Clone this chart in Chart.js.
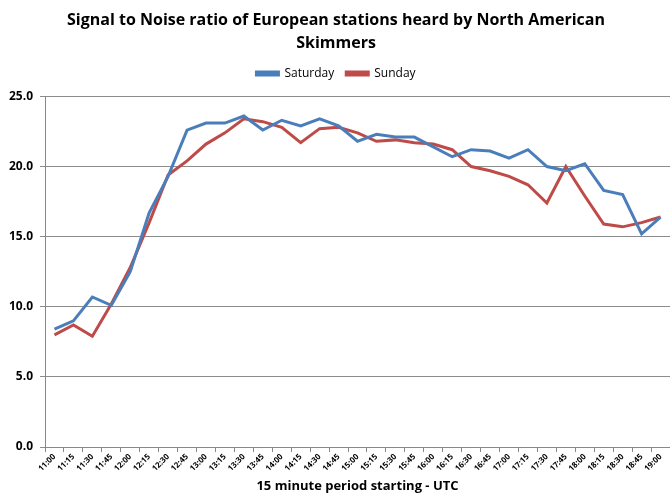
<!DOCTYPE html>
<html>
<head>
<meta charset="utf-8">
<script src="https://cdn.jsdelivr.net/npm/chart.js@4/dist/chart.umd.min.js"></script>
<style>
  html, body { margin: 0; padding: 0; background: #fff; }
  #wrap { width: 670px; height: 495px; }
</style>
</head>
<body>
<div id="wrap"><canvas id="snrChart"></canvas></div>
<script>
const timeLabels = ['11:00', '11:15', '11:30', '11:45', '12:00', '12:15', '12:30', '12:45', '13:00', '13:15', '13:30',
  '13:45', '14:00', '14:15', '14:30', '14:45', '15:00', '15:15', '15:30', '15:45', '16:00', '16:15', '16:30',
  '16:45', '17:00', '17:15', '17:30', '17:45', '18:00', '18:15', '18:30', '18:45', '19:00'];

const saturday = [8.4, 9.0, 10.7, 10.1, 12.5, 16.7, 19.3, 22.6, 23.1, 23.1, 23.6, 22.6, 23.3, 22.9, 23.4, 22.9,
  21.8, 22.3, 22.1, 22.1, 21.4, 20.7, 21.2, 21.1, 20.6, 21.2, 20.0, 19.7, 20.2, 18.3, 18.0, 15.2, 16.4];

const sunday = [8.0, 8.7, 7.9, 10.2, 12.8, 16.0, 19.4, 20.4, 21.6, 22.4, 23.4, 23.2, 22.8, 21.7, 22.7, 22.8,
  22.4, 21.8, 21.9, 21.7, 21.6, 21.2, 20.0, 19.7, 19.3, 18.7, 17.4, 20.0, 17.9, 15.9, 15.7, 16.0, 16.4];

const fontFamily = "'Open Sans', 'Liberation Sans', sans-serif";

// extra room under the legend, without spreading the legend items apart
const legendGap = {
  id: 'legendGap',
  beforeLayout(chart) {
    const legend = chart.legend;
    if (!legend || legend._gapPatched) return;
    const fit = legend.fit;
    legend.fit = function() {
      fit.call(this);
      this.height += 7;
    };
    legend._gapPatched = true;
  }
};

const ctx = document.getElementById('snrChart').getContext('2d');
const myChart = new Chart(ctx, {
  type: 'line',
  data: {
    labels: timeLabels,
    datasets: [{
      label: 'Saturday',
      data: saturday,
      borderColor: '#4a7ebb',
      backgroundColor: '#4a7ebb',
      borderWidth: 3,
      pointRadius: 0,
      tension: 0,
    }, {
      label: 'Sunday',
      data: sunday,
      borderColor: '#be4b48',
      backgroundColor: '#be4b48',
      borderWidth: 3,
      pointRadius: 0,
      tension: 0,
    }]
  },
  plugins: [legendGap],
  options: {
    responsive: true,
    maintainAspectRatio: false,
    animation: false,
    layout: {
      padding: { left: 2, right: 0, top: 7, bottom: 1 }
    },
    plugins: {
      title: {
        display: true,
        text: ['Signal to Noise ratio of European stations heard by North American', 'Skimmers'],
        color: '#000',
        font: { family: fontFamily, size: 16, weight: 'bold', lineHeight: 1.45 },
        padding: { top: 2, bottom: 0 }
      },
      legend: {
        labels: {
          color: '#000',
          boxWidth: 22,
          boxHeight: 3,
          padding: 12,
          font: { family: fontFamily, size: 12 }
        }
      },
      tooltip: { enabled: false }
    },
    scales: {
      x: {
        offset: true,
        title: {
          display: true,
          text: '15 minute period starting - UTC',
          color: '#000',
          font: { family: fontFamily, size: 13, weight: 'bold' },
          padding: { top: 5, bottom: 0 }
        },
        grid: {
          drawOnChartArea: false,
          drawTicks: true,
          tickLength: 5,
          color: '#888',
          offset: true
        },
        border: { color: '#888' },
        ticks: {
          autoSkip: false,
          maxRotation: 45,
          minRotation: 45,
          color: '#000',
          padding: 0,
          font: { family: fontFamily, size: 8, weight: 'bold' }
        }
      },
      y: {
        min: 0,
        max: 25,
        grid: {
          color: '#8c8c8c',
          tickLength: 5,
          lineWidth: 1
        },
        border: { color: '#888' },
        ticks: {
          stepSize: 5,
          color: '#000',
          padding: 7,
          font: { family: fontFamily, size: 12, weight: 'bold' },
          callback: function(v) { return v.toFixed(1); }
        }
      }
    }
  }
});
</script>
</body>
</html>
